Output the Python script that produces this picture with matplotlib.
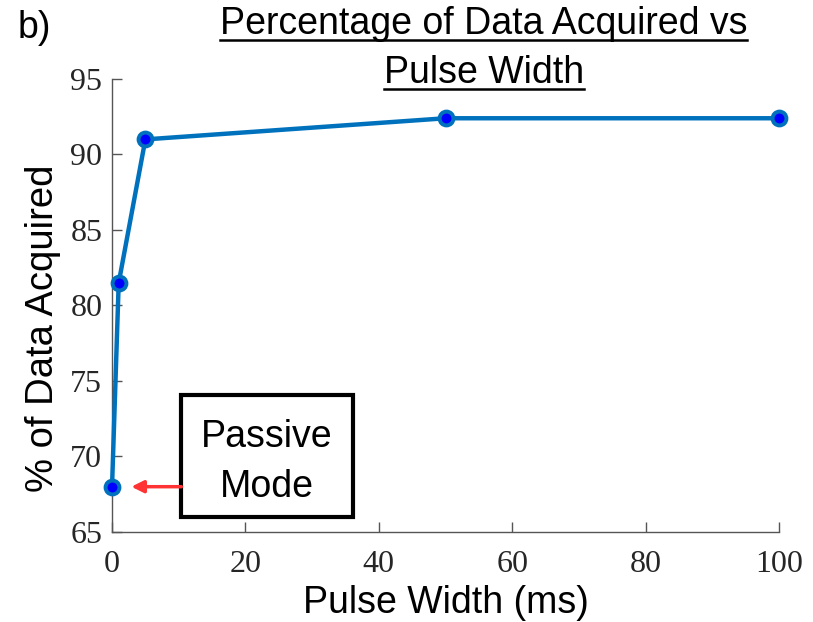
import matplotlib
matplotlib.use("Agg")
import matplotlib.pyplot as plt
from matplotlib.lines import Line2D
from matplotlib.patches import Rectangle

pulse_width = [0, 1, 5, 50, 100]
pct_acquired = [68.0, 81.5, 91.0, 92.4, 92.4]
xticks = [0, 20, 40, 60, 80, 100]
yticks = [65, 70, 75, 80, 85, 90, 95]

fig = plt.figure(figsize=(8.13, 6.22), dpi=100)
ax = fig.add_axes([0.1378, 0.1447, 0.8204, 0.7283])

ax.plot(pulse_width, pct_acquired, color='#0072BD', lw=3.2, marker='o',
        ms=10, mfc='#0000FF', mec='#0072BD', mew=2.8, clip_on=False, zorder=3)

ax.set_xlim(0, 100)
ax.set_ylim(65, 95)
ax.set_xticks(xticks)
ax.set_yticks(yticks)
ax.spines['top'].set_visible(False)
ax.spines['right'].set_visible(False)
for s in ['left', 'bottom']:
    ax.spines[s].set_color('#555555')
    ax.spines[s].set_linewidth(1.0)
ax.tick_params(direction='in', length=7, width=1, color='#555555',
               labelsize=23, labelcolor='#262626')
ax.tick_params(axis='x', pad=13)
ax.tick_params(axis='y', pad=7)
for lab in ax.get_xticklabels() + ax.get_yticklabels():
    lab.set_family('Liberation Serif')

ax.set_xlabel('Pulse Width (ms)', fontsize=27, family='Liberation Sans')
ax.set_ylabel('% of Data Acquired', fontsize=27.5, family='Liberation Sans')
ax.xaxis.set_label_coords(0.5, -0.118)
ax.yaxis.set_label_coords(-0.076, 0.45)

t1 = fig.text(0.595, 0.962, 'Percentage of Data Acquired vs', ha='center', va='center',
              fontsize=27, family='Liberation Sans')
t2 = fig.text(0.595, 0.882, 'Pulse Width', ha='center', va='center',
              fontsize=27, family='Liberation Sans')
fig.text(0.022, 0.955, 'b)', ha='left', va='center', fontsize=27, family='Liberation Sans')

# Passive Mode box
ax.add_patch(Rectangle((10.35, 66.0), 25.75, 8.07, fc='white', ec='black', lw=3,
                       zorder=4, clip_on=False))
ax.text(23.2, 69.65, 'Passive\nMode', ha='center', va='center', fontsize=27,
        family='Liberation Sans', linespacing=1.5, zorder=5)
ax.annotate('', xy=(2.9, 68.0), xytext=(10.4, 68.0),
            arrowprops=dict(arrowstyle='-|>', color='#FF3333', lw=2.5,
                            mutation_scale=18, shrinkA=0, shrinkB=0), zorder=4)

# underline title
fig.canvas.draw()
r = fig.canvas.get_renderer()
W, H = fig.bbox.width, fig.bbox.height
for t in (t1, t2):
    bb = t.get_window_extent(r)
    y = (bb.y0 + 2) / H
    fig.add_artist(Line2D([bb.x0 / W, bb.x1 / W], [y, y], color='black', lw=1.8,
                          transform=fig.transFigure))

fig.savefig('out.png', dpi=100)
